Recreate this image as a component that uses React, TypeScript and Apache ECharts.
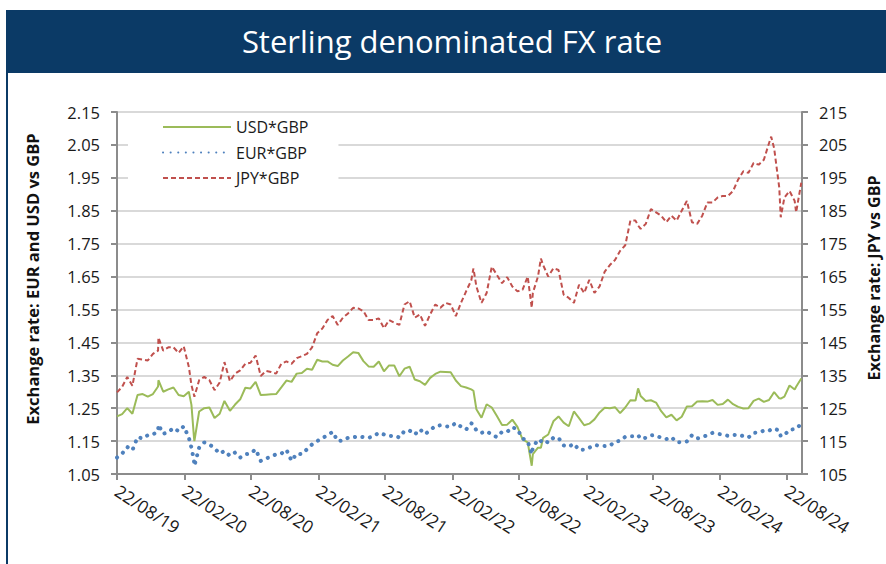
import React, { useEffect, useRef } from 'react';
import * as echarts from 'echarts';

const dates = [
  '2019-08-22','2019-09-05','2019-09-19','2019-10-03','2019-10-17','2019-10-31','2019-11-14','2019-11-28','2019-12-12','2019-12-13','2019-12-26',
  '2020-01-09','2020-01-23','2020-02-06','2020-02-20','2020-03-05','2020-03-12','2020-03-19','2020-03-20','2020-04-02','2020-04-16','2020-04-30',
  '2020-05-14','2020-05-28','2020-06-10','2020-06-25','2020-07-09','2020-07-23','2020-08-06','2020-08-20','2020-09-03','2020-09-17','2020-10-01',
  '2020-10-15','2020-10-29','2020-11-12','2020-11-26','2020-12-10','2020-12-24',
  '2021-01-07','2021-01-21','2021-02-04','2021-02-18','2021-03-04','2021-03-18','2021-04-01','2021-04-15','2021-04-29','2021-05-13','2021-05-27',
  '2021-06-10','2021-06-24','2021-07-08','2021-07-22','2021-08-05','2021-08-19','2021-09-02','2021-09-16','2021-09-30','2021-10-14','2021-10-28',
  '2021-11-11','2021-11-25','2021-12-09','2021-12-23',
  '2022-01-06','2022-01-20','2022-02-03','2022-02-17','2022-03-03','2022-03-17','2022-03-31','2022-04-14','2022-04-20','2022-04-28','2022-05-12',
  '2022-05-26','2022-06-09','2022-06-23','2022-07-07','2022-07-21','2022-08-04','2022-08-18','2022-09-01','2022-09-15','2022-09-26','2022-09-29',
  '2022-10-13','2022-10-21','2022-10-27','2022-11-10','2022-11-24','2022-12-08','2022-12-22',
  '2023-01-05','2023-01-19','2023-02-02','2023-02-16','2023-03-02','2023-03-16','2023-03-30','2023-04-13','2023-04-27','2023-05-11','2023-05-25',
  '2023-06-08','2023-06-22','2023-07-06','2023-07-13','2023-07-20','2023-08-03','2023-08-17','2023-08-31','2023-09-14','2023-09-28','2023-10-12',
  '2023-10-26','2023-11-09','2023-11-23','2023-12-07','2023-12-21',
  '2024-01-04','2024-01-18','2024-02-01','2024-02-15','2024-02-29','2024-03-14','2024-03-28','2024-04-11','2024-04-25','2024-05-09','2024-05-23',
  '2024-06-06','2024-06-20','2024-07-04','2024-07-10','2024-07-18','2024-08-01','2024-08-05','2024-08-15','2024-08-29','2024-09-12','2024-09-16',
  '2024-09-30',
];

const usdGbp = [
  1.225,1.232,1.250,1.233,1.290,1.293,1.285,1.293,1.316,1.335,1.300,
  1.307,1.313,1.290,1.286,1.300,1.260,1.160,1.150,1.240,1.250,1.252,
  1.220,1.233,1.272,1.242,1.261,1.277,1.312,1.310,1.330,1.290,1.291,
  1.292,1.293,1.313,1.334,1.330,1.355,
  1.357,1.370,1.367,1.397,1.392,1.392,1.382,1.378,1.395,1.407,1.420,
  1.418,1.393,1.377,1.376,1.392,1.362,1.380,1.380,1.347,1.370,1.376,
  1.337,1.332,1.321,1.342,
  1.354,1.361,1.360,1.359,1.334,1.317,1.313,1.307,1.303,1.247,1.221,
  1.262,1.252,1.226,1.199,1.200,1.215,1.193,1.155,1.146,1.075,1.110,
  1.130,1.130,1.160,1.170,1.210,1.225,1.206,
  1.195,1.240,1.220,1.198,1.203,1.216,1.237,1.251,1.250,1.253,1.235,
  1.252,1.274,1.273,1.310,1.287,1.272,1.274,1.267,1.241,1.222,1.230,
  1.213,1.224,1.255,1.256,1.270,
  1.271,1.270,1.275,1.260,1.263,1.276,1.262,1.254,1.249,1.250,1.272,
  1.279,1.269,1.275,1.285,1.299,1.280,1.279,1.285,1.319,1.307,1.315,
  1.340,
];

const eurGbp = [
  1.100,1.112,1.132,1.122,1.162,1.158,1.168,1.170,1.180,1.200,1.172,
  1.177,1.190,1.180,1.195,1.160,1.130,1.090,1.075,1.130,1.146,1.140,
  1.128,1.112,1.120,1.105,1.115,1.100,1.110,1.112,1.125,1.090,1.097,
  1.103,1.110,1.112,1.124,1.090,1.112,
  1.110,1.125,1.140,1.150,1.160,1.167,1.178,1.150,1.152,1.160,1.161,
  1.165,1.162,1.160,1.165,1.175,1.170,1.165,1.167,1.161,1.181,1.182,
  1.170,1.186,1.171,1.183,
  1.196,1.198,1.195,1.194,1.205,1.194,1.185,1.204,1.200,1.182,1.175,
  1.180,1.170,1.162,1.178,1.178,1.192,1.186,1.158,1.149,1.110,1.130,
  1.155,1.150,1.155,1.145,1.160,1.160,1.137,
  1.133,1.142,1.123,1.124,1.130,1.138,1.136,1.135,1.136,1.148,1.151,
  1.163,1.165,1.165,1.168,1.157,1.160,1.168,1.167,1.160,1.156,1.162,
  1.146,1.147,1.149,1.168,1.158,
  1.162,1.168,1.175,1.172,1.170,1.166,1.168,1.170,1.165,1.161,1.175,
  1.176,1.182,1.181,1.186,1.188,1.182,1.165,1.168,1.185,1.186,1.187,
  1.203,
];

const jpyGbp = [
  129.8,131.5,134.5,131.8,140.0,139.8,139.5,141.5,142.5,146.5,142.5,
  143.5,143.5,141.8,143.8,137.5,132.0,129.0,128.5,133.5,134.5,133.5,
  130.5,132.8,139.0,133.2,135.5,136.5,138.5,138.8,141.0,134.8,136.3,
  136.0,135.5,138.5,139.2,138.5,140.2,
  140.8,141.5,143.5,147.8,149.2,151.8,153.0,150.3,152.5,153.8,155.5,
  155.3,154.5,151.8,151.8,152.3,149.3,151.8,151.0,150.3,156.5,157.5,
  152.5,153.5,150.0,153.5,
  156.5,155.5,157.0,156.5,153.0,157.0,160.5,163.8,167.5,162.0,157.0,
  160.0,168.0,165.5,163.0,164.8,162.0,160.5,161.0,165.0,155.5,160.0,
  165.0,170.5,168.5,165.0,167.5,167.0,159.5,
  158.5,157.0,162.5,160.0,164.0,160.0,162.0,166.5,168.5,170.0,172.8,
  174.5,182.0,182.0,180.5,179.5,181.0,185.5,184.5,183.5,181.5,183.5,
  182.0,185.0,188.0,181.5,181.0,
  183.5,187.5,187.5,189.0,189.5,189.5,191.0,194.5,197.0,196.5,199.5,
  199.0,200.5,205.5,207.5,204.0,192.0,183.0,189.0,191.0,188.0,184.5,
  193.5,
];

const xTickDates = [
  '2019-08-22','2020-02-22','2020-08-22','2021-02-22','2021-08-22','2022-02-22',
  '2022-08-22','2023-02-22','2023-08-22','2024-02-22','2024-08-22',
];
const xMin = '2019-08-22';
const xMax = '2024-10-02';

const FONT = '"Open Sans", "Noto Sans", sans-serif';
const NAVY = '#0b3a66';
const DAY = 86400000;

function ts(d: string): number {
  const [y, m, dd] = d.split('-').map(Number);
  return Date.UTC(y, m - 1, dd);
}
function dayIndex(d: string): number {
  return Math.round((ts(d) - ts(xMin)) / DAY);
}
function pad(n: number): string {
  return n < 10 ? '0' + n : String(n);
}
function fmtDay(v: number): string {
  const d = new Date(ts(xMin) + Math.round(v) * DAY);
  return pad(d.getUTCDate()) + '/' + pad(d.getUTCMonth() + 1) + '/' + pad(d.getUTCFullYear() % 100);
}

export default function App() {
  const ref = useRef<HTMLDivElement>(null);
  useEffect(() => {
    const chart = echarts.init(ref.current!, null, { renderer: 'svg' });
    const tickDays = xTickDates.map(dayIndex);
    const axisGray = '#8c8c8c';
    const option: any = {
      animation: false,
      backgroundColor: '#ffffff',
      textStyle: { fontFamily: FONT },
      grid: { left: 117, right: 84, top: 112, bottom: 90, containLabel: false },
      legend: {
        orient: 'vertical',
        left: 128,
        top: 115,
        padding: [4, 30, 8, 34],
        backgroundColor: '#ffffff',
        itemWidth: 68,
        itemHeight: 14,
        itemGap: 9.5,
        itemStyle: { opacity: 0 },
        textStyle: { fontFamily: FONT, fontSize: 16, color: '#1a1a1a' },
        data: ['USD*GBP', 'EUR*GBP', 'JPY*GBP'],
      },
      xAxis: {
        type: 'value',
        min: 0,
        max: dayIndex(xMax),
        axisLine: { show: true, onZero: false, lineStyle: { color: axisGray, width: 2 } },
        axisTick: { show: true, customValues: tickDays, length: 6, lineStyle: { color: axisGray, width: 2 } },
        axisLabel: {
          customValues: tickDays,
          rotate: -33,
          margin: 15,
          fontSize: 17.5,
          fontFamily: FONT,
          color: '#1a1a1a',
          formatter: (v: number) => fmtDay(v),
        },
        splitLine: { show: false },
      },
      yAxis: [
        {
          type: 'value',
          position: 'left',
          min: 1.05,
          max: 2.15,
          interval: 0.1,
          axisLine: { show: true, lineStyle: { color: axisGray, width: 2 } },
          axisTick: { show: true, length: 6, lineStyle: { color: axisGray, width: 2 } },
          axisLabel: {
            margin: 17,
            fontSize: 16.5,
            fontFamily: FONT,
            color: '#1a1a1a',
            formatter: (v: number) => v.toFixed(2),
          },
          splitLine: { show: true, lineStyle: { color: '#d9d9d9', width: 2 } },
        },
        {
          type: 'value',
          position: 'right',
          min: 105,
          max: 215,
          interval: 10,
          axisLine: { show: true, lineStyle: { color: axisGray, width: 2 } },
          axisTick: { show: true, length: 6, lineStyle: { color: axisGray, width: 2 } },
          axisLabel: {
            margin: 17,
            fontSize: 16.5,
            fontFamily: FONT,
            color: '#1a1a1a',
            formatter: (v: number) => String(Math.round(v)),
          },
          splitLine: { show: false },
        },
      ],
      series: [
        {
          name: 'USD*GBP',
          type: 'line',
          yAxisIndex: 0,
          showSymbol: false,
          symbol: 'none',
          data: dates.map((d, i) => [dayIndex(d), usdGbp[i]]),
          lineStyle: { color: '#9bbb59', width: 2 },
          itemStyle: { color: '#9bbb59' },
        },
        {
          name: 'EUR*GBP',
          type: 'line',
          yAxisIndex: 0,
          showSymbol: false,
          symbol: 'none',
          data: dates.map((d, i) => [dayIndex(d), eurGbp[i]]),
          lineStyle: { color: '#4f81bd', width: 4, type: [0.1, 7.5], cap: 'round' },
          itemStyle: { color: '#4f81bd' },
        },
        {
          name: 'JPY*GBP',
          type: 'line',
          yAxisIndex: 1,
          showSymbol: false,
          symbol: 'none',
          data: dates.map((d, i) => [dayIndex(d), jpyGbp[i]]),
          lineStyle: { color: '#c0504d', width: 2, type: [5, 3] },
          itemStyle: { color: '#c0504d' },
        },
      ],
      graphic: [
        { type: 'rect', shape: { x: 6, y: 10, width: 880, height: 63 }, style: { fill: NAVY }, z: 10 },
        {
          type: 'text', x: 452, y: 41, z: 11,
          style: { text: 'Sterling denominated FX rate', fill: '#ffffff', font: '31px ' + FONT, align: 'center', verticalAlign: 'middle' },
        },
        { type: 'line', shape: { x1: 7, y1: 73, x2: 7, y2: 564 }, style: { stroke: NAVY, lineWidth: 2 }, z: 10 },
        {
          type: 'text', x: 32, y: 279, rotation: Math.PI / 2, z: 11,
          style: { text: 'Exchange rate: EUR and USD vs GBP', fill: '#111111', font: 'bold 16.5px ' + FONT, align: 'center', verticalAlign: 'middle' },
        },
        {
          type: 'text', x: 874, y: 278, rotation: Math.PI / 2, z: 11,
          style: { text: 'Exchange rate: JPY vs GBP', fill: '#111111', font: 'bold 16px ' + FONT, align: 'center', verticalAlign: 'middle' },
        },
      ],
    };
    chart.setOption(option);
    return () => chart.dispose();
  }, []);
  return <div ref={ref} style={{ position: 'fixed', left: 0, top: 0, width: 886, height: 564 }} />;
}
